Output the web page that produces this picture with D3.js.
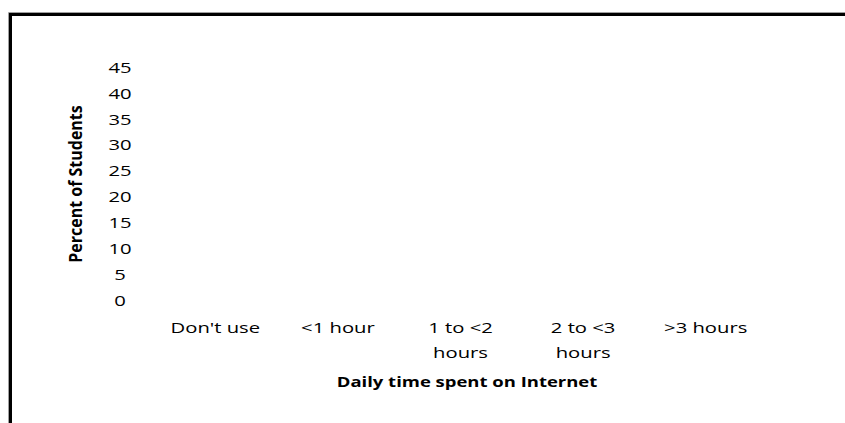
<!DOCTYPE html>
<html>
<head>
<meta charset="utf-8">
<script src="https://cdn.jsdelivr.net/npm/d3@7/dist/d3.min.js"></script>
<style>
  html, body { margin: 0; padding: 0; background: #fff; }
  svg { display: block; }
  text { font-family: "Open Sans", "Noto Sans", sans-serif; fill: #000; }
</style>
</head>
<body>
<script>
// ---- data ----
const categories = ["Don't use", "<1 hour", "1 to <2\nhours", "2 to <3\nhours", ">3 hours"];
const values = [null, null, null, null, null]; // reference shows no bars drawn
const yTicks = [0, 5, 10, 15, 20, 25, 30, 35, 40, 45];
const xTitle = "Daily time spent on Internet";
const yTitle = "Percent of Students";

const W = 845, H = 423;
const SX = 1.35; // horizontal stretch of the reference lettering

const svg = d3.select("body").append("svg").attr("width", W).attr("height", H);

// frame (top + left edges)
svg.append("path").attr("d", `M8.5,${H + 5} V12.5 H${W + 5}`)
  .attr("fill", "none").attr("stroke", "#a0a0a0").attr("stroke-width", 1);
svg.append("path").attr("d", `M10.5,${H + 5} V14.5 H${W + 5}`)
  .attr("fill", "none").attr("stroke", "#000").attr("stroke-width", 3);

const x = d3.scaleBand().domain(categories).range([154, 767]).padding(0);
const y = d3.scaleLinear().domain([0, 45]).range([300, 67]);

// bars (none visible in reference)
svg.append("g").selectAll("rect")
  .data(categories.map((c, i) => ({ c, v: values[i] })).filter(d => d.v != null))
  .join("rect")
  .attr("x", d => x(d.c) + x.bandwidth() * 0.2)
  .attr("width", x.bandwidth() * 0.6)
  .attr("y", d => y(d.v))
  .attr("height", d => y(0) - y(d.v))
  .attr("fill", "#4f81bd");

// y axis
const yAxis = svg.append("g").attr("transform", "translate(120,0)")
  .call(d3.axisLeft(y).tickValues(yTicks).tickSize(0).tickFormat(d3.format("d")));
yAxis.select(".domain").remove();
yAxis.selectAll("text")
  .attr("x", 0).attr("dy", "0.35em")
  .attr("text-anchor", "middle")
  .attr("transform", `scale(${SX},1)`)
  .style("font-size", "15px")
  .style("font-family", "'Open Sans', sans-serif");

// x axis
const xAxis = svg.append("g").attr("transform", "translate(0,320)")
  .call(d3.axisBottom(x).tickSize(0));
xAxis.select(".domain").remove();
xAxis.selectAll("text").each(function (d) {
  const t = d3.select(this);
  t.text(null).attr("y", 0).attr("dy", null)
    .attr("text-anchor", "middle")
    .attr("transform", `scale(${SX},1)`)
    .style("font-size", "15px")
    .style("font-family", "'Open Sans', sans-serif");
  d.split("\n").forEach((line, i) => {
    t.append("tspan").attr("x", 0).attr("y", 13 + i * 25).text(line);
  });
});

// axis titles
svg.append("text")
  .attr("transform", `translate(467,387) scale(1.32,1)`)
  .attr("text-anchor", "middle")
  .style("font-size", "14px").style("font-weight", "bold")
  .text(xTitle);

svg.append("text")
  .attr("transform", `translate(82,184) scale(1.15,1) rotate(-90)`)
  .attr("text-anchor", "middle")
  .style("font-size", "16px").style("font-weight", "bold")
  .text(yTitle);
</script>
</body>
</html>
